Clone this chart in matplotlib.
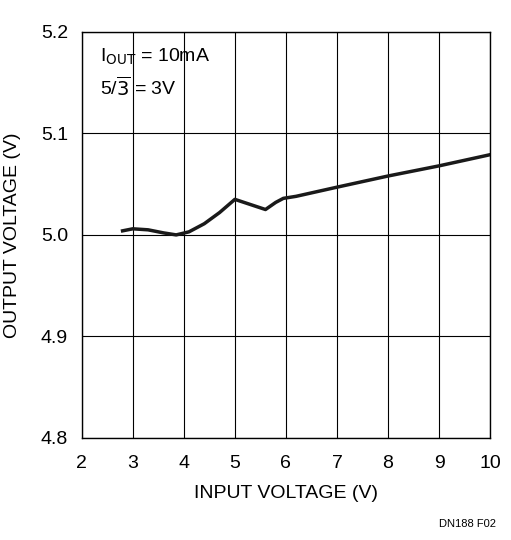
import matplotlib.pyplot as plt

# curve
vin = [2.8, 3.0, 3.3, 3.6, 3.85, 4.1, 4.4, 4.7, 5.0, 5.3, 5.6, 5.8, 5.95, 6.2, 7.0, 8.0, 9.0, 10.0]
vout = [5.004, 5.006, 5.005, 5.002, 5.000, 5.003, 5.011, 5.022, 5.035, 5.030, 5.025, 5.032, 5.036, 5.038, 5.047, 5.058, 5.068, 5.079]

x_ticks = [2, 3, 4, 5, 6, 7, 8, 9, 10]
y_ticks = [4.8, 4.9, 5.0, 5.1, 5.2]

plt.rcParams['font.family'] = ['Liberation Sans Narrow', 'Liberation Sans', 'DejaVu Sans']

fig = plt.figure(figsize=(5.11, 5.40), dpi=100)
ax = fig.add_axes([0.160, 0.189, 0.799, 0.752])

ax.plot(vin, vout, color='#1a1a1a', linewidth=2.5)
ax.set_xlim(2, 10)
ax.set_ylim(4.8, 5.2)
ax.set_xticks(x_ticks)
ax.set_yticks(y_ticks)
ax.set_yticklabels(['%.1f' % v for v in y_ticks])
ax.grid(True, color='black', linewidth=0.8)
ax.tick_params(axis='x', length=0, labelsize=14, pad=12)
ax.tick_params(axis='y', length=0, labelsize=14, pad=10)
for s in ax.spines.values():
    s.set_linewidth(1.0)

ax.set_xlabel('INPUT VOLTAGE (V)', fontsize=14, labelpad=10)
ax.set_ylabel('OUTPUT VOLTAGE (V)', fontsize=14, labelpad=14)

ax.text(2.35, 5.175, r'I$_{\mathrm{OUT}}$ = 10mA', fontsize=14, va='center')
ax.text(2.35, 5.145, r'5/$\overline{\mathrm{3}}$ = 3V', fontsize=14, va='center')

fig.text(0.97, 0.02, 'DN188 F02', fontsize=8, ha='right', va='bottom')

fig.savefig('out.png', dpi=100)
